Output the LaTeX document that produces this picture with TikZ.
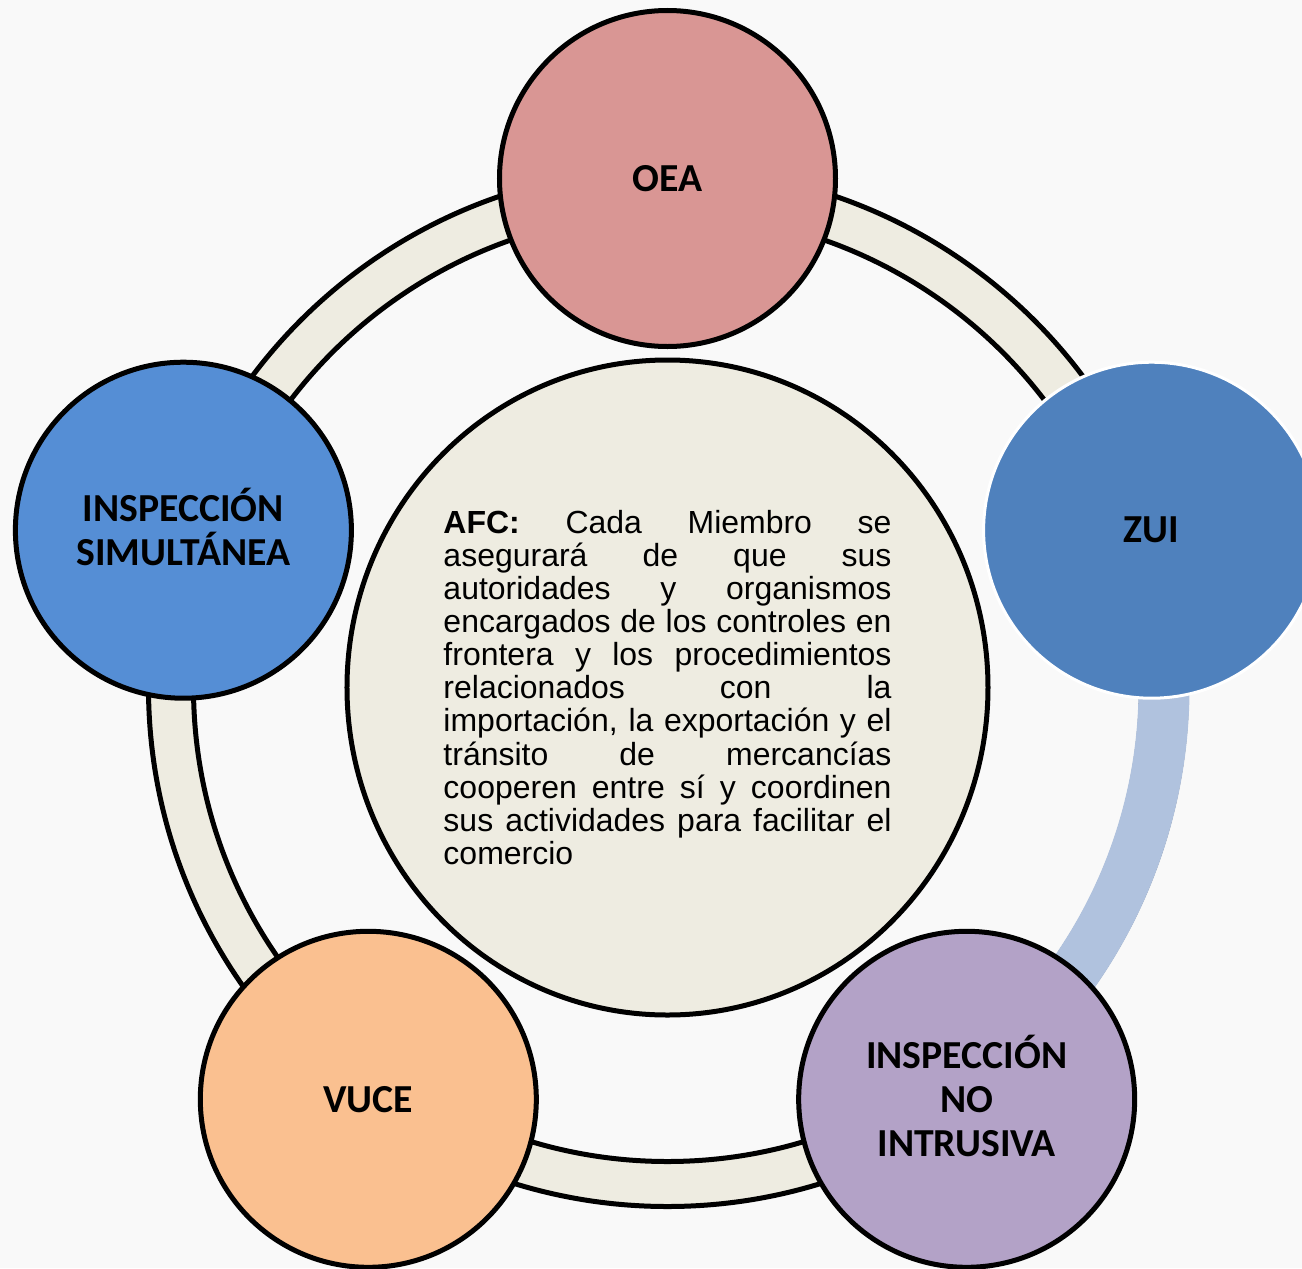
\documentclass[tikz,border=0pt]{standalone}
\usepackage{fontspec}
\setmainfont{Liberation Sans}
\newfontfamily\calibrifont{Carlito}
\usetikzlibrary{shapes.geometric}

\begin{document}
\begin{tikzpicture}[bubble/.style = {circle, draw = black, line width = 0.1cm, minimum size = 6.72cm, inner sep = 0pt, align = center, font = \calibrifont\bfseries\fontsize{22.6}{25}\selectfont}]
\definecolor{bgcol}{HTML}{F9F9F9}
\definecolor{ringcol}{HTML}{EEECE1}
\definecolor{segcol}{HTML}{B0C2DE}
\clip (-13.35, -11.61) rectangle (12.69, 13.75);
\fill[bgcol] (-13.35, -11.61) rectangle (12.69, 13.75);
\coordinate (hub) at (0, 0);
\fill[ringcol, even odd rule] (hub) circle (10.38) (hub) circle (9.48);
\draw[line width = 0.1cm] (hub) circle (10.38) (hub) circle (9.48);
\fill[segcol] (18:10.44) arc (18:-54:10.44) -- (-54:9.42) arc (-54:18:9.42) -- cycle;
\node[ellipse, draw = black, line width = 0.1cm, fill = ringcol, minimum width = 12.82cm, minimum height = 13.1cm, inner sep = 0pt] (afc) at (hub) {\parbox{8.96cm}{\fontsize{18.2}{18.8}\selectfont\tolerance=10000 \hyphenpenalty=10000
\textbf{AFC:} Cada Miembro se\linebreak asegurará de que sus\linebreak autoridades y organismos\linebreak encargados de los controles en\linebreak frontera y los procedimientos\linebreak relacionados con la\linebreak importación, la exportación y el\linebreak tránsito de mercancías\linebreak cooperen entre sí y coordinen\linebreak sus actividades para facilitar el\linebreak comercio}};
\definecolor{col}{HTML}{D99694}
\node[bubble, fill = col] (oea) at (90:10.18) {OEA};
\definecolor{col}{HTML}{4F81BD}
\node[bubble, fill = col, draw = white, line width = 0.06cm] (zui) at (18:10.18) {ZUI};
\definecolor{col}{HTML}{B3A2C7}
\node[bubble, fill = col] (noint) at (-54:10.18) {INSPECCI\smash{Ó}N\\NO\\INTRUSIVA};
\definecolor{col}{HTML}{FAC090}
\node[bubble, fill = col] (vuce) at (-126:10.18) {VUCE};
\definecolor{col}{HTML}{558ED5}
\node[bubble, fill = col] (simul) at (162:10.18) {INSPECCI\smash{Ó}N\\SIMULTÁNEA};
\end{tikzpicture}
\end{document}
